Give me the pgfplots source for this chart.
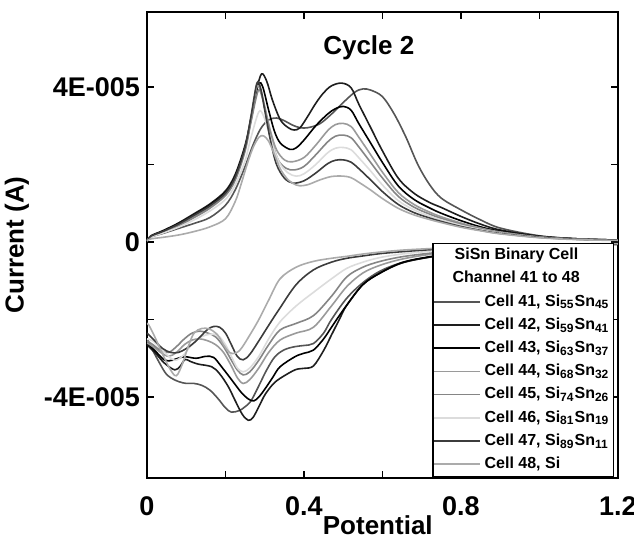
\documentclass[border=0pt]{standalone}
\usepackage{fontspec}
\setmainfont{Liberation Sans}
\usepackage{pgfplots}
\pgfplotsset{compat=1.18}
\definecolor{c41}{HTML}{555555}
\definecolor{c42}{HTML}{1E1E1E}
\definecolor{c43}{HTML}{000000}
\definecolor{c44}{HTML}{9A9A9A}
\definecolor{c45}{HTML}{858585}
\definecolor{c46}{HTML}{DCDCDC}
\definecolor{c47}{HTML}{3C3C3C}
\definecolor{c48}{HTML}{ABABAB}
\pgfplotsset{cv/.style={smooth, tension=0.55, no marks, line width=0.8pt}}

\begin{document}
\begin{tikzpicture}
\useasboundingbox (-73.5pt,-29.5pt) rectangle (243.5pt,239pt);
\begin{axis}[
  at={(0,0)}, anchor=south west,
  scale only axis, width=235.5pt, height=233pt,
  xmin=0, xmax=1.2, ymin=-60.9, ymax=59.35,
  xtick={0,0.4,0.8,1.2}, xticklabels={0,0.4,0.8,1.2},
  minor xtick={0.2,0.6,1.0},
  ytick={-40,0,40}, yticklabels={-4E-005,0,4E-005},
  minor ytick={-20,20},
  tick align=inside, major tick length=3.5pt, minor tick length=3.5pt,
  every tick/.style={black, line width=0.8pt},
  axis line style={line width=1pt},
  tick label style={font=\fontsize{13.5}{15}\selectfont\bfseries},
  xticklabel style={anchor=base, yshift=-18.75pt},
  xlabel={Potential}, ylabel={Current (A)},
  every axis x label/.style={at={(axis description cs:0.49,-0.121)}, anchor=base, font=\fontsize{13}{15}\selectfont\bfseries},
  every axis y label/.style={at={(axis description cs:-0.276,0.5)}, rotate=90, anchor=center, font=\fontsize{13}{15}\selectfont\bfseries},
  title={Cycle 2},
  title style={at={(axis description cs:0.471,0.897)}, anchor=center, font=\fontsize{13}{15}\selectfont\bfseries},
  legend style={at={(axis description cs:0.9915,0.002)}, anchor=south east, draw=black, line width=0.6pt, fill=white,
    font=\fontsize{8}{9}\selectfont\bfseries, inner xsep=0pt, inner ysep=0.5pt, row sep=0.3pt, cells={anchor=west}},
  legend image code/.code={\draw[#1] (0pt,0pt) -- (23pt,0pt);},
]
\addlegendimage{empty legend}
\addlegendentry{\hspace*{-15pt}SiSn Binary Cell}
\addlegendimage{empty legend}
\addlegendentry{\hspace*{-16pt}Channel 41 to 48}

% Cell 41
\addplot[cv, c41] coordinates {(0,0.3) (0.01,1.3) (0.04,2.2) (0.08,3.5) (0.12,4.8) (0.16,6.3) (0.20,9.5) (0.225,13.5) (0.25,19.5) (0.27,25) (0.29,29.3) (0.31,31.5) (0.33,32) (0.35,31.3) (0.37,30.2) (0.39,29.5) (0.41,29.5) (0.44,30.5) (0.47,33) (0.50,36) (0.53,38.7) (0.55,39.5) (0.57,39.2) (0.60,37.5) (0.63,33) (0.66,27) (0.69,20) (0.72,14.8) (0.75,11.3) (0.80,8.3) (0.85,5.7) (0.90,3.6) (1.0,1.6) (1.1,0.8) (1.2,0.5)};
\addlegendentry{Cell 41, Si\textsubscript{55}Sn\textsubscript{45}}
\addplot[cv, c41, forget plot] coordinates {(1.2,-0.6) (1.1,-0.9) (1.0,-1.3) (0.9,-1.9) (0.8,-2.8) (0.72,-3.9) (0.65,-5.3) (0.594,-7.5) (0.55,-10.5) (0.509,-14.5) (0.47,-20) (0.45,-23.5) (0.424,-26.2) (0.40,-26.7) (0.377,-27) (0.35,-27.8) (0.326,-29.6) (0.305,-33) (0.284,-37.3) (0.265,-41) (0.25,-42.5) (0.235,-43.5) (0.215,-43.9) (0.20,-42.8) (0.18,-40.3) (0.16,-38.2) (0.14,-37) (0.12,-36.5) (0.10,-36.5) (0.08,-36) (0.06,-35) (0.045,-33.5) (0.02,-29) (0.005,-26) (0,-25)};

% Cell 42
\addplot[cv, c42] coordinates {(0,0.3) (0.01,1.6) (0.04,2.9) (0.08,4.9) (0.12,7.3) (0.16,9.8) (0.20,13.2) (0.225,17.5) (0.25,25) (0.265,32) (0.28,39.5) (0.292,43.4) (0.305,41.5) (0.32,36.5) (0.34,31.5) (0.36,29.5) (0.375,28.9) (0.39,29.5) (0.41,32.5) (0.43,35.8) (0.45,38.5) (0.47,40.3) (0.496,41) (0.52,39.8) (0.54,35.5) (0.57,29.5) (0.60,23.5) (0.64,16.5) (0.68,12.6) (0.72,10.2) (0.75,8.9) (0.80,6.6) (0.85,4.6) (0.90,3.1) (1.0,1.5) (1.1,0.8) (1.2,0.5)};
\addlegendentry{Cell 42, Si\textsubscript{59}Sn\textsubscript{41}}
\addplot[cv, c42, forget plot] coordinates {(1.2,-0.6) (1.1,-0.9) (1.0,-1.3) (0.9,-1.9) (0.8,-2.8) (0.72,-3.9) (0.65,-5.4) (0.594,-8) (0.55,-11) (0.509,-16.3) (0.49,-20) (0.47,-24) (0.45,-28) (0.424,-32) (0.40,-32.6) (0.377,-33) (0.339,-35.2) (0.32,-36.8) (0.30,-39.5) (0.285,-42.5) (0.27,-45.3) (0.258,-46) (0.243,-44.5) (0.225,-41) (0.207,-37.3) (0.185,-34) (0.165,-32.2) (0.13,-31.5) (0.11,-30.8) (0.097,-30.3) (0.085,-32) (0.071,-33) (0.045,-31.3) (0.02,-28.5) (0.005,-27) (0,-26)};

% Cell 43
\addplot[cv, c43] coordinates {(0,0.3) (0.01,1.5) (0.04,2.8) (0.08,4.7) (0.12,7) (0.16,9.5) (0.20,12.8) (0.225,17) (0.25,24.5) (0.265,31.5) (0.275,37) (0.285,41) (0.295,40) (0.31,34) (0.325,28.5) (0.34,25.5) (0.364,23.9) (0.38,24.3) (0.40,26.3) (0.43,30) (0.46,33) (0.48,34.4) (0.50,35) (0.52,34) (0.54,30.5) (0.57,25.5) (0.60,20.5) (0.64,14.5) (0.68,11) (0.72,8.8) (0.75,7.4) (0.80,5.5) (0.85,3.9) (0.90,2.8) (1.0,1.4) (1.1,0.8) (1.2,0.5)};
\addlegendentry{Cell 43, Si\textsubscript{63}Sn\textsubscript{37}}
\addplot[cv, c43, forget plot] coordinates {(1.2,-0.6) (1.1,-0.9) (1.0,-1.3) (0.9,-1.9) (0.8,-2.7) (0.72,-3.8) (0.65,-5.3) (0.594,-8) (0.55,-11) (0.509,-16.3) (0.49,-19) (0.47,-22) (0.45,-25) (0.424,-27.9) (0.40,-28.7) (0.377,-29.6) (0.339,-32.2) (0.32,-35) (0.30,-38) (0.285,-40) (0.272,-41) (0.258,-40.5) (0.24,-38.8) (0.216,-35.6) (0.19,-32.2) (0.17,-29.8) (0.15,-29.5) (0.125,-30) (0.097,-29.6) (0.079,-30) (0.065,-30.5) (0.045,-30.5) (0.02,-28) (0.005,-26.5) (0,-25.5)};

% Cell 44
\addplot[cv, c44] coordinates {(0,0.3) (0.01,1.4) (0.04,2.6) (0.08,4.3) (0.12,6.5) (0.16,9) (0.20,12.3) (0.225,16.5) (0.25,24) (0.265,32) (0.28,40) (0.29,39) (0.30,35) (0.315,28.5) (0.33,23.8) (0.35,21.2) (0.37,20.7) (0.40,21.8) (0.43,25) (0.46,28.7) (0.48,30.3) (0.50,30.6) (0.52,29.8) (0.54,27) (0.57,22.5) (0.60,18) (0.64,12.8) (0.68,9.7) (0.72,7.7) (0.75,6.5) (0.80,4.9) (0.85,3.6) (0.90,2.6) (1.0,1.3) (1.1,0.7) (1.2,0.5)};
\addlegendentry{Cell 44, Si\textsubscript{68}Sn\textsubscript{32}}
\addplot[cv, c44, forget plot] coordinates {(1.2,-0.5) (1.1,-0.7) (1.0,-1.1) (0.9,-1.6) (0.8,-2.3) (0.72,-3.2) (0.65,-4.4) (0.594,-6) (0.55,-8) (0.509,-11.5) (0.47,-16.5) (0.424,-22) (0.38,-23.5) (0.339,-25.3) (0.31,-28.5) (0.285,-32.5) (0.262,-35.5) (0.245,-36.5) (0.23,-35) (0.215,-32) (0.195,-28.5) (0.175,-26.5) (0.155,-25.5) (0.135,-25) (0.115,-25.3) (0.095,-26.5) (0.075,-28.5) (0.055,-29.5) (0.035,-28.5) (0.015,-27) (0,-26)};

% Cell 45
\addplot[cv, c45] coordinates {(0,0.3) (0.01,1.4) (0.04,2.5) (0.08,4.2) (0.12,6.3) (0.16,8.7) (0.20,12) (0.225,16) (0.25,23.5) (0.265,31) (0.283,39) (0.293,37.5) (0.305,32) (0.32,25.5) (0.335,21) (0.355,19) (0.375,18.6) (0.40,19.5) (0.43,22.5) (0.46,25.8) (0.48,27.3) (0.50,27.6) (0.52,26.9) (0.54,24.5) (0.57,20.5) (0.60,16.5) (0.64,11.8) (0.68,9) (0.72,7.2) (0.75,6.1) (0.80,4.6) (0.85,3.4) (0.90,2.4) (1.0,1.3) (1.1,0.7) (1.2,0.5)};
\addlegendentry{Cell 45, Si\textsubscript{74}Sn\textsubscript{26}}
\addplot[cv, c45, forget plot] coordinates {(1.2,-0.5) (1.1,-0.7) (1.0,-1) (0.9,-1.5) (0.8,-2.1) (0.72,-2.9) (0.65,-3.8) (0.594,-5) (0.55,-6.5) (0.509,-9) (0.47,-14) (0.424,-19) (0.38,-21) (0.339,-22.7) (0.31,-26.5) (0.285,-30.5) (0.262,-33.5) (0.245,-34.3) (0.23,-33) (0.215,-30.5) (0.195,-27) (0.175,-24.5) (0.155,-23.5) (0.135,-23) (0.115,-23.5) (0.095,-25) (0.075,-27) (0.055,-28.5) (0.035,-28) (0.015,-26.5) (0,-25.5)};

% Cell 46
\addplot[cv, c46] coordinates {(0,0.3) (0.01,1.3) (0.04,2.3) (0.08,3.8) (0.12,5.7) (0.16,8) (0.20,11) (0.225,14.8) (0.25,21) (0.265,27) (0.285,33.6) (0.297,32.5) (0.31,28.5) (0.325,23.5) (0.34,20) (0.36,17.8) (0.38,17) (0.40,17.6) (0.43,20) (0.46,23) (0.48,24.2) (0.50,24.4) (0.52,23.8) (0.54,21.7) (0.57,18.3) (0.60,14.7) (0.64,10.7) (0.68,8.3) (0.72,6.7) (0.75,5.7) (0.80,4.3) (0.85,3.2) (0.90,2.3) (1.0,1.2) (1.1,0.7) (1.2,0.5)};
\addlegendentry{Cell 46, Si\textsubscript{81}Sn\textsubscript{19}}
\addplot[cv, c46, forget plot] coordinates {(1.2,-0.5) (1.1,-0.6) (1.0,-0.9) (0.9,-1.3) (0.8,-1.8) (0.72,-2.4) (0.65,-3.1) (0.594,-4) (0.55,-5.2) (0.509,-6.8) (0.47,-9.5) (0.424,-13) (0.38,-16.5) (0.339,-20.6) (0.31,-25) (0.285,-29.5) (0.262,-32.5) (0.245,-33.5) (0.23,-32.5) (0.215,-29.5) (0.2,-26.5) (0.185,-24.5) (0.17,-23.8) (0.15,-24) (0.13,-25) (0.11,-27) (0.09,-29.5) (0.07,-30.5) (0.05,-29) (0.03,-27) (0.015,-25.5) (0,-25)};

% Cell 47
\addplot[cv, c47] coordinates {(0,0.3) (0.01,1.5) (0.04,2.7) (0.08,4.6) (0.12,6.9) (0.16,9.3) (0.20,12.6) (0.225,16.8) (0.25,24.5) (0.265,32.5) (0.28,41) (0.29,39.5) (0.30,34) (0.315,26) (0.33,20) (0.35,16.5) (0.372,15.2) (0.40,15.8) (0.43,17.8) (0.46,20.2) (0.48,21.1) (0.50,21.2) (0.52,20.6) (0.54,18.9) (0.57,16) (0.60,13) (0.64,9.7) (0.68,7.6) (0.72,6.2) (0.75,5.3) (0.80,4) (0.85,3) (0.90,2.2) (1.0,1.2) (1.1,0.7) (1.2,0.5)};
\addlegendentry{Cell 47, Si\textsubscript{89}Sn\textsubscript{11}}
\addplot[cv, c47, forget plot] coordinates {(1.2,-0.5) (1.1,-0.6) (1.0,-0.9) (0.9,-1.2) (0.8,-1.6) (0.72,-2) (0.65,-2.5) (0.594,-3) (0.55,-3.6) (0.509,-4.2) (0.47,-5.2) (0.424,-7.2) (0.38,-11) (0.339,-17) (0.31,-21.5) (0.285,-25.5) (0.262,-29) (0.245,-30.4) (0.23,-29.5) (0.215,-26.5) (0.2,-23.5) (0.185,-22) (0.17,-21.8) (0.155,-22.5) (0.14,-24) (0.12,-26) (0.10,-27.5) (0.08,-28.5) (0.06,-28.5) (0.04,-27.5) (0.02,-25.5) (0.005,-24) (0,-23.5)};

% Cell 48
\addplot[cv, c48] coordinates {(0,0.3) (0.01,0.8) (0.04,1.2) (0.08,1.8) (0.12,2.7) (0.16,3.9) (0.20,6) (0.225,10.5) (0.24,15) (0.255,20) (0.27,24.3) (0.285,27) (0.297,27.4) (0.31,26) (0.325,22.5) (0.34,18.8) (0.36,16) (0.38,14.7) (0.39,14.5) (0.41,14.8) (0.44,16) (0.47,16.9) (0.50,17) (0.52,16.6) (0.54,15.4) (0.57,13.4) (0.60,11.2) (0.64,8.7) (0.68,7) (0.72,5.8) (0.75,5) (0.80,3.8) (0.85,2.9) (0.90,2.1) (1.0,1.1) (1.1,0.6) (1.2,0.4)};
\addlegendentry{Cell 48, Si}
\addplot[cv, c48, forget plot] coordinates {(1.2,-0.4) (1.1,-0.5) (1.0,-0.7) (0.9,-0.9) (0.8,-1.3) (0.72,-1.7) (0.65,-2.1) (0.594,-2.6) (0.55,-3.1) (0.509,-3.7) (0.47,-4.2) (0.424,-5) (0.38,-6.5) (0.339,-9.5) (0.31,-15) (0.285,-20) (0.262,-24) (0.24,-27.5) (0.225,-28.7) (0.21,-28.5) (0.195,-26.5) (0.18,-24) (0.16,-22.5) (0.14,-22.3) (0.12,-23.5) (0.105,-27) (0.09,-31.5) (0.075,-34.5) (0.06,-33) (0.04,-29) (0.02,-24.5) (0.005,-21.5) (0,-21)};
\end{axis}
\end{tikzpicture}
\end{document}
